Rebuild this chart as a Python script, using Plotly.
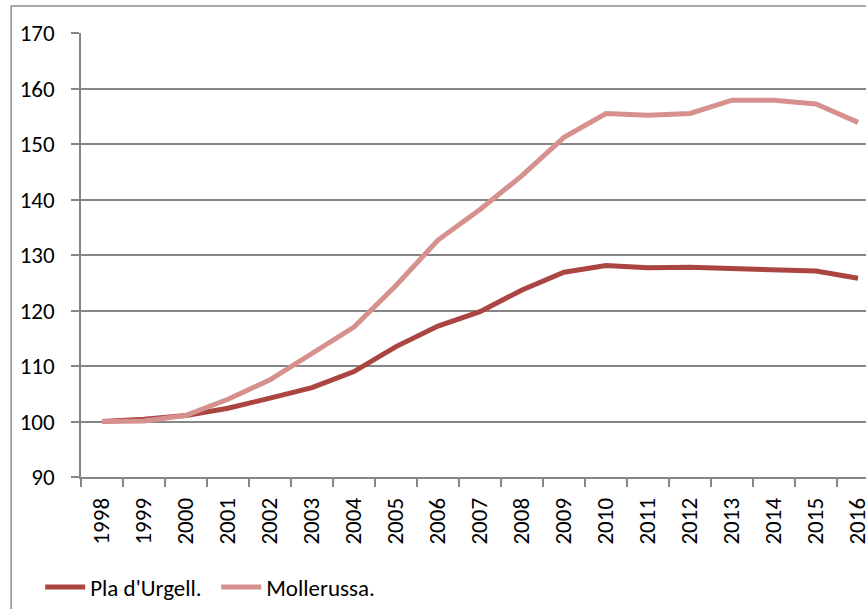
import plotly.graph_objects as go

years = [str(y) for y in range(1998, 2017)]
pla_urgell = [100.0, 100.4, 101.1, 102.4, 104.2, 106.1, 109.0, 113.5, 117.2, 119.8,
              123.7, 126.9, 128.1, 127.7, 127.8, 127.6, 127.3, 127.1, 125.8]
mollerussa = [100.0, 100.1, 101.1, 104.0, 107.5, 112.2, 117.0, 124.5, 132.7, 138.2,
              144.3, 151.2, 155.5, 155.2, 155.5, 157.9, 157.9, 157.2, 153.9]

grey = "#868686"
fnt = dict(family="Calibri, Lato, sans-serif", size=23, color="black")

fig = go.Figure()
fig.add_trace(go.Scatter(x=years, y=pla_urgell, name="Pla d'Urgell.", mode="lines",
                         line=dict(color="#AA4542", width=5)))
fig.add_trace(go.Scatter(x=years, y=mollerussa, name="Mollerussa.", mode="lines",
                         line=dict(color="#D6918E", width=5)))

fig.update_layout(
    width=866, height=609,
    margin=dict(l=81, r=0, t=33, b=132, autoexpand=False),
    plot_bgcolor="white", paper_bgcolor="white",
    font=fnt,
    showlegend=True,
    legend=dict(orientation="h", x=-0.052, xanchor="left", y=-0.248, yanchor="middle",
                font=fnt, itemwidth=40, entrywidth=121, bgcolor="rgba(0,0,0,0)"),
    xaxis=dict(type="category", range=[-0.5, 18.19], showgrid=False, automargin=False,
               showline=True, linecolor=grey, linewidth=1.5,
               ticks="outside", tickson="boundaries", ticklen=8, tickcolor=grey, tickwidth=1.5,
               tickangle=-90, tickfont=fnt, ticklabelstandoff=10),
    yaxis=dict(range=[90, 170], dtick=10, tick0=90, showgrid=True, gridcolor=grey, gridwidth=1.5,
               showline=True, linecolor=grey, linewidth=1.5, zeroline=False, automargin=False,
               ticks="outside", ticklen=8, tickcolor=grey, tickwidth=1.5,
               tickfont=fnt, ticklabelstandoff=12),
)

# outer chart border (cropped at right and bottom in the original)
fig.add_shape(type="rect", xref="paper", yref="paper", x0=-0.089, x1=1.2, y0=-0.5, y1=1.061,
              line=dict(color="#8c8c8c", width=1.5), layer="below")

# drop the default page margin so the figure sits at the window's corner
fig.write_html("out.html", config={"displayModeBar": False},
               post_script="document.body.style.margin='0';")
